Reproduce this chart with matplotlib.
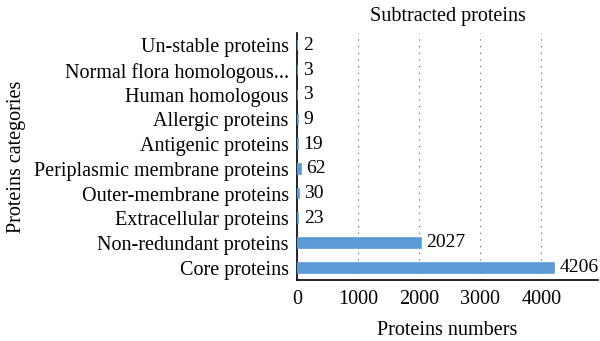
import matplotlib.pyplot as plt
import numpy as np

plt.rcParams['font.family'] = ['Liberation Serif', 'DejaVu Serif']

categories = ['Core proteins', 'Non-redundant proteins', 'Extracellular proteins',
              'Outer-membrane proteins', 'Periplasmic membrane proteins',
              'Antigenic proteins', 'Allergic proteins', 'Human homologous',
              'Normal flora homologous...', 'Un-stable proteins']
counts = [4206, 2027, 23, 30, 62, 19, 9, 3, 3, 2]
x_ticks = [0, 1000, 2000, 3000, 4000]

fs = 14.5

fig = plt.figure(figsize=(6, 3.41), dpi=100)
ax = fig.add_axes([297 / 600, 1 - 280 / 341, 301 / 600, 247 / 341])

y = np.arange(len(categories))
ax.barh(y, counts, height=0.4, color='#5b9bd5', edgecolor='#5b9bd5',
        linewidth=1.2, zorder=3)
for yi, v in zip(y, counts):
    ax.annotate(str(v), (v, yi), xytext=(4, 0), textcoords='offset points',
                va='center', ha='left', fontsize=14)

ax.set_xlim(0, 4930)
ax.set_ylim(-0.5, len(categories) - 0.5)
ax.set_yticks(y)
ax.set_yticklabels(categories, fontsize=fs)
ax.set_xticks(x_ticks)
ax.set_xticklabels([str(t) for t in x_ticks], fontsize=fs)
ax.tick_params(length=0, pad=6)
ax.tick_params(axis='x', pad=7)

ax.grid(axis='x', linestyle=(0, (1, 5)), color='#555555', linewidth=0.8, zorder=0)
ax.spines['top'].set_visible(False)
ax.spines['right'].set_visible(False)
ax.spines['left'].set_linewidth(1.2)
ax.spines['bottom'].set_linewidth(1.2)

ax.set_title('Subtracted proteins', fontsize=fs, pad=9)
ax.set_xlabel('Proteins numbers', fontsize=fs, labelpad=9)
ax.set_ylabel('Proteins categories', fontsize=fs, labelpad=6)

fig.savefig('out.png', dpi=100)
